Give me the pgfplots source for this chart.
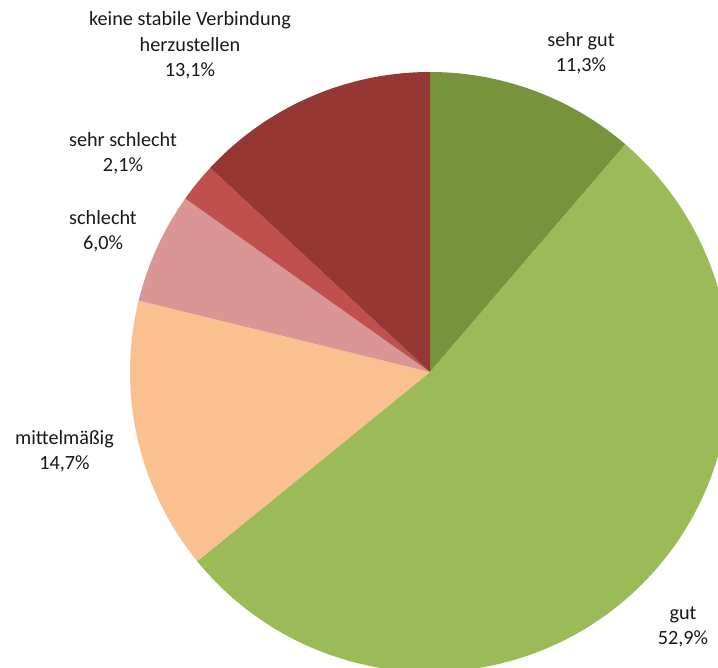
\documentclass[border=0pt]{standalone}
\usepackage{pgfplots}
\pgfplotsset{compat=1.18}
\usepackage{fontspec}
\setmainfont{Carlito}
\definecolor{csg}{HTML}{77933C}
\definecolor{cg}{HTML}{9BBB59}
\definecolor{cm}{HTML}{FAC090}
\definecolor{cs}{HTML}{D99694}
\definecolor{css}{HTML}{C0504D}
\definecolor{ck}{HTML}{953735}
\tikzset{lbl/.style={align=center, inner sep=0pt, font=\fontsize{20.3}{25.5}\selectfont, text=black!90}}
% shares in percent, clockwise from 12 o'clock
\def\vA{11.3}\def\vB{52.9}\def\vC{14.7}\def\vD{6.0}\def\vE{2.1}\def\vF{13.1}
\pgfmathsetmacro\tot{\vA+\vB+\vC+\vD+\vE+\vF}
\pgfmathsetmacro\aA{90}
\pgfmathsetmacro\aB{\aA-\vA/\tot*360}
\pgfmathsetmacro\aC{\aB-\vB/\tot*360}
\pgfmathsetmacro\aD{\aC-\vC/\tot*360}
\pgfmathsetmacro\aE{\aD-\vD/\tot*360}
\pgfmathsetmacro\aF{\aE-\vE/\tot*360}
\pgfmathsetmacro\aG{\aF-\vF/\tot*360}
\begin{document}
\begin{tikzpicture}
\begin{axis}[
  width=718bp, height=668bp, scale only axis,
  xmin=0, xmax=718, ymin=0, ymax=668,
  axis lines=none, clip=true,
  every axis plot/.append style={draw=none, samples=120, smooth},
]
\addplot[fill=csg, domain=\aB:\aA] ({430+300*cos(x)},{296+300*sin(x)}) -- (axis cs:430,296) -- cycle;
\addplot[fill=cg, domain=\aC:\aB] ({430+300*cos(x)},{296+300*sin(x)}) -- (axis cs:430,296) -- cycle;
\addplot[fill=cm, domain=\aD:\aC] ({430+300*cos(x)},{296+300*sin(x)}) -- (axis cs:430,296) -- cycle;
\addplot[fill=cs, domain=\aE:\aD] ({430+300*cos(x)},{296+300*sin(x)}) -- (axis cs:430,296) -- cycle;
\addplot[fill=css, domain=\aF:\aE] ({430+300*cos(x)},{296+300*sin(x)}) -- (axis cs:430,296) -- cycle;
\addplot[fill=ck, domain=\aG:\aF] ({430+300*cos(x)},{296+300*sin(x)}) -- (axis cs:430,296) -- cycle;
\node[lbl] at (axis cs:190,622.5) {keine stabile Verbindung\\herzustellen\\13,1\%};
\node[lbl] at (axis cs:581,614.5) {sehr gut\\11,3\%};
\node[lbl] at (axis cs:123,515) {sehr schlecht\\2,1\%};
\node[lbl] at (axis cs:103,437) {schlecht\\6,0\%};
\node[lbl] at (axis cs:64.5,217) {mittelmäßig\\14,7\%};
\node[lbl] at (axis cs:683,41) {gut\\52,9\%};
\end{axis}
\pgfresetboundingbox
\path (current axis.south west) rectangle (current axis.north east);
\end{tikzpicture}
\end{document}
